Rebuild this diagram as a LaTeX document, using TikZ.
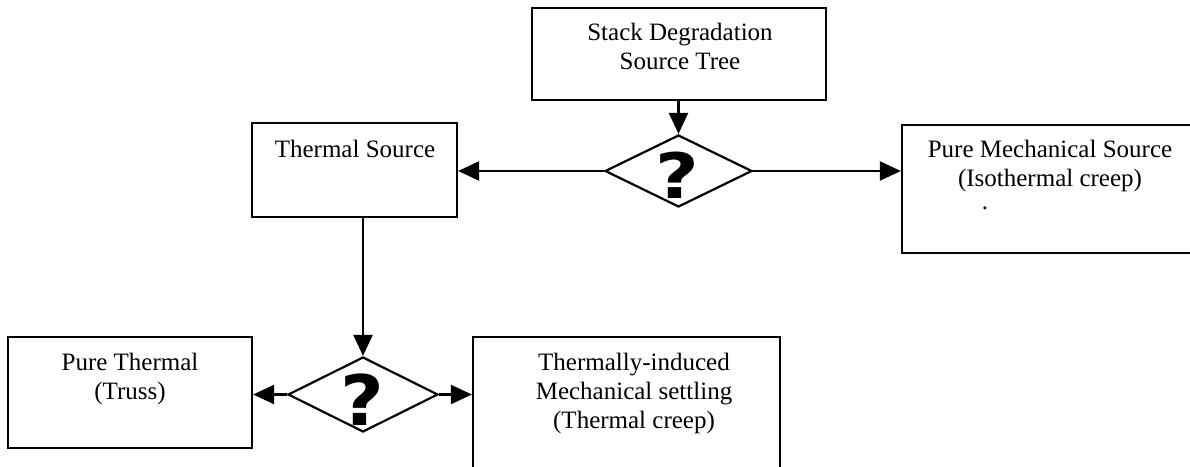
\documentclass[tikz,border=0pt]{standalone}
\usepackage{fontspec}
\setmainfont{Liberation Serif}
\newfontfamily\qfont{DejaVu Sans}
\usetikzlibrary{arrows.meta,shapes.geometric,calc}
\tikzset{
  box/.style={draw, line width=2.2pt, inner sep=0pt, rectangle},
  txt/.style={inner sep=0pt, anchor=north, align=center, font=\fontsize{25}{29}\selectfont},
  decide/.style={draw, diamond, line width=2.2pt, inner sep=0pt},
  qmark/.style={inner sep=0pt, font=\qfont\bfseries\fontsize{58}{58}\selectfont},
  conn/.style={line width=2.2pt, -{Triangle[length=21pt,width=19pt]}},
}
\begin{document}
\begin{tikzpicture}[x=1pt,y=-1pt]
\clip (0,0) rectangle (1190,466);
\fill[white] (0,0) rectangle (1190,466);
% boxes
\node[box, minimum width=294pt, minimum height=92pt] (stack) at (679,54) {};
\node[box, minimum width=205pt, minimum height=94pt] (thermal) at (354.5,170) {};
\node[box, minimum width=350pt, minimum height=128pt] (mech) at (1077,189) {};
\node[box, minimum width=244pt, minimum height=111pt] (pure) at (130,392.5) {};
\node[box, minimum width=307pt, minimum height=180pt] (tmech) at (626.5,427) {};
% texts
\node[txt] (stacktxt) at (680,22.5) {Stack Degradation\\Source Tree};
\node[txt] (thermaltxt) at (355,139.5) {Thermal Source};
\node[txt] (mechtxt) at (1050,139.5) {Pure Mechanical Source\\(Isothermal creep)};
\node[inner sep=0pt, text height=3pt, text depth=0pt, font=\fontsize{25}{29}\selectfont] (mechdot) at (985,208) {.};
\node[txt] (puretxt) at (130,352.5) {Pure Thermal\\(Truss)};
\node[txt] (tmechtxt) at (634,352.5) {Thermally-induced\\Mechanical settling\\(Thermal creep)};
% decisions
\node[decide, minimum width=147pt, minimum height=72pt] (ud) at (678.5,171) {};
\node[qmark] (udq) at (677.5,175) {\scalebox{1.3}[1.08]{?}};
\node[decide, minimum width=150pt, minimum height=75pt] (ld) at (363,394.5) {};
\node[qmark] (ldq) at (362.5,400) {\scalebox{1.3}[1.2]{?}};
% connectors
\draw[conn] (stack.south -| ud.north) -- (ud.north);
\draw[conn] (ud.west) -- (ud.west -| thermal.east);
\draw[conn] (ud.east) -- (ud.east -| mech.west);
\draw[conn] (ld.north |- thermal.south) -- (ld.north);
\draw[conn] (ld.west) -- (ld.west -| pure.east);
\draw[conn] (ld.east) -- (ld.east -| tmech.west);
\end{tikzpicture}
\end{document}
